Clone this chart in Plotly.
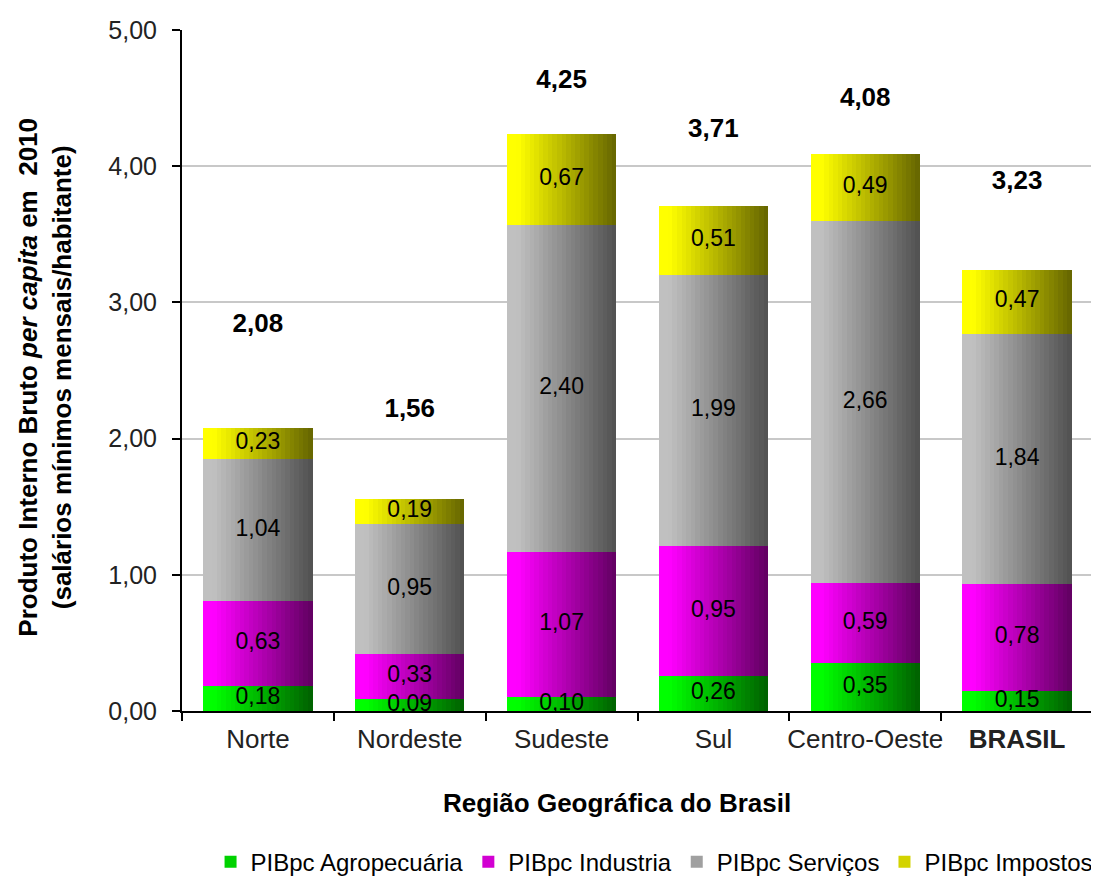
import plotly.graph_objects as go

regioes = ["Norte", "Nordeste", "Sudeste", "Sul", "Centro-Oeste", "BRASIL"]
rotulos_x = ["Norte", "Nordeste", "Sudeste", "Sul", "Centro-Oeste", "<b>BRASIL</b>"]

agro = [0.18, 0.09, 0.10, 0.26, 0.35, 0.15]
industria = [0.63, 0.33, 1.07, 0.95, 0.59, 0.78]
servicos = [1.04, 0.95, 2.40, 1.99, 2.66, 1.84]
impostos = [0.23, 0.19, 0.67, 0.51, 0.49, 0.47]
totais = [2.08, 1.56, 4.25, 3.71, 4.08, 3.23]

nomes = ["PIBpc Agropecuária", "PIBpc Industria", "PIBpc Serviços", "PIBpc Impostos"]
series = [agro, industria, servicos, impostos]

# cor clara (esquerda) -> escura (direita) de cada série
cores = [
    ((0, 255, 0), (0, 96, 0)),
    ((255, 0, 255), (96, 0, 96)),
    ((192, 192, 192), (80, 80, 80)),
    ((255, 255, 0), (100, 100, 0)),
]

# altura dos rótulos de total (colocados à mão no original)
altura_total = [2.83, 2.21, 4.62, 4.26, 4.49, 3.88]

fonte = "Liberation Sans, Arial, sans-serif"
W = 0.72  # largura da barra (fração da categoria)
N = 24  # fatias para o degradê


def cor_degrade(c0, c1, t):
    t = max(0.0, (t - 0.1) / 0.9)
    r, g, b = (round(a + (b_ - a) * t) for a, b_ in zip(c0, c1))
    return f"rgb({r},{g},{b})"


def fmt(v):
    return f"{v:.2f}".replace(".", ",")


fig = go.Figure()

base = [0.0] * len(regioes)
for nome, valores, (c0, c1) in zip(nomes, series, cores):
    for k in range(N):
        t = (k + 0.5) / N
        larg = W / N + (0.003 if k < N - 1 else 0)
        fig.add_trace(
            go.Bar(
                x=regioes,
                y=valores,
                base=base,
                width=larg,
                offset=-W / 2 + k * W / N,
                marker=dict(color=cor_degrade(c0, c1, t), line=dict(width=0)),
                name=nome,
                legendgroup=nome,
                showlegend=(k == N // 3),
                hoverinfo="skip",
            )
        )
    # rótulos dos segmentos
    fig.add_trace(
        go.Scatter(
            x=regioes,
            y=[b + v / 2 for b, v in zip(base, valores)],
            mode="text",
            text=[fmt(v) for v in valores],
            textfont=dict(family=fonte, size=23, color="black"),
            showlegend=False,
            hoverinfo="skip",
        )
    )
    base = [b + v for b, v in zip(base, valores)]

# rótulos dos totais
fig.add_trace(
    go.Scatter(
        x=regioes,
        y=altura_total,
        mode="text",
        text=[f"<b>{fmt(v)}</b>" for v in totais],
        textfont=dict(family=fonte, size=26, color="black"),
        showlegend=False,
        hoverinfo="skip",
    )
)

# a página tem 8 px de margem no body: figura 1091x869
fig.update_layout(
    barmode="overlay",
    width=1091,
    height=869,
    autosize=False,
    paper_bgcolor="white",
    plot_bgcolor="white",
    margin=dict(l=174, r=6, t=22, b=166, pad=0, autoexpand=False),
    font=dict(family=fonte, size=24, color="black"),
    bargap=0,
    legend=dict(
        orientation="h",
        x=1.005,
        xanchor="right",
        y=-0.222,
        yanchor="middle",
        font=dict(size=24),
        traceorder="normal",
        itemwidth=30,
        tracegroupgap=0,
    ),
    annotations=[
        dict(
            text="<b>Produto Interno Bruto <i>per capita</i> em  2010<br>(salários mínimos mensais/habitante)</b>",
            xref="paper",
            yref="paper",
            x=-0.150,
            y=0.49,
            xanchor="center",
            yanchor="middle",
            textangle=-90,
            showarrow=False,
            font=dict(size=26, family=fonte),
        ),
        dict(
            text="<b>Região Geográfica do Brasil</b>",
            xref="paper",
            yref="paper",
            x=0.477,
            y=-0.135,
            xanchor="center",
            yanchor="middle",
            showarrow=False,
            font=dict(size=26, family=fonte),
        ),
    ],
    shapes=[
        dict(
            type="line",
            xref="paper",
            yref="paper",
            x0=1,
            x1=1,
            y0=0,
            y1=1,
            line=dict(color="#b0b0b0", width=2),
        )
    ],
    separators=",.",
)

fig.update_xaxes(
    type="category",
    tickmode="array",
    tickvals=regioes,
    ticktext=rotulos_x,
    tickson="boundaries",
    tickangle=0,
    range=[-0.5, 5.5],
    automargin=False,
    showline=True,
    linewidth=2,
    linecolor="black",
    ticks="outside",
    ticklen=8,
    tickwidth=2,
    tickcolor="black",
    ticklabelstandoff=4,
    showgrid=False,
    tickfont=dict(size=26, color="#222222"),
)

fig.update_yaxes(
    range=[0, 5],
    dtick=1,
    tickformat=".2f",
    automargin=False,
    showline=True,
    linewidth=2,
    linecolor="black",
    ticks="outside",
    ticklen=8,
    tickwidth=2,
    tickcolor="black",
    ticklabelstandoff=10,
    gridcolor="#c8c8c8",
    gridwidth=2,
    zeroline=False,
    tickfont=dict(size=25, color="#222222"),
)

fig.write_html("out.html")
